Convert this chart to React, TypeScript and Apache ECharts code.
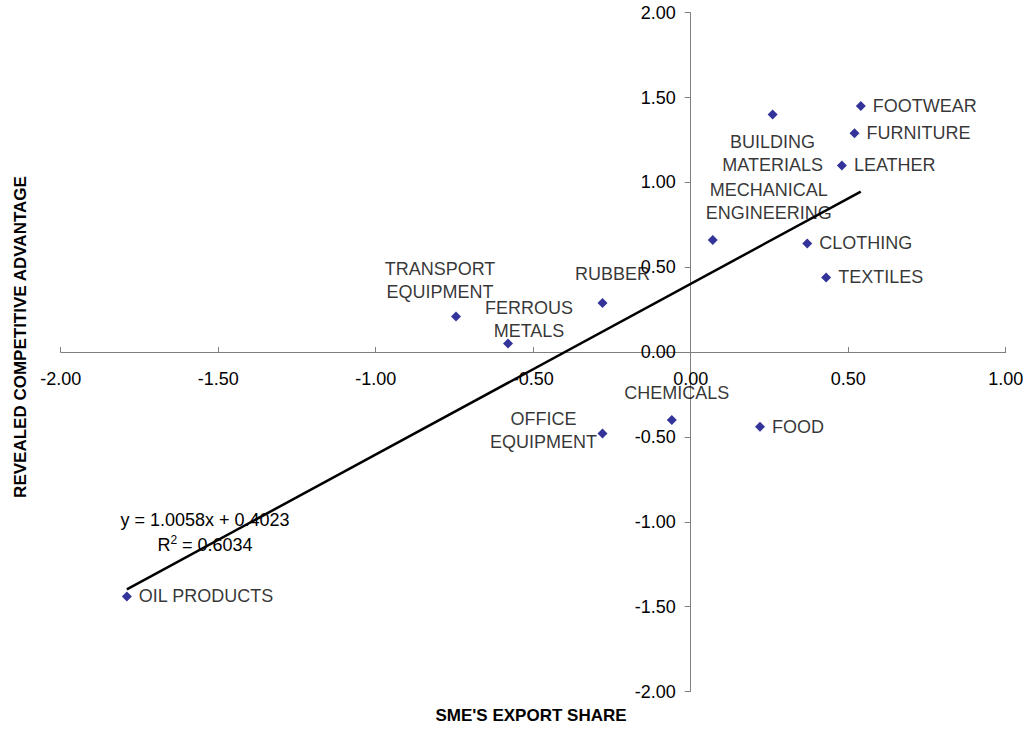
import React, { useEffect, useRef } from "react";
import * as echarts from "echarts";

// Sector names (line breaks where the label wraps)
const sectors = [
  "FOOTWEAR",
  "BUILDING\nMATERIALS",
  "FURNITURE",
  "LEATHER",
  "MECHANICAL\nENGINEERING",
  "CLOTHING",
  "TEXTILES",
  "RUBBER",
  "TRANSPORT\nEQUIPMENT",
  "FERROUS\nMETALS",
  "CHEMICALS",
  "OFFICE\nEQUIPMENT",
  "FOOD",
  "OIL PRODUCTS",
];

// SME's export share (x) and revealed competitive advantage (y)
const exportShare = [0.54, 0.26, 0.52, 0.48, 0.07, 0.37, 0.43, -0.28, -0.745, -0.58, -0.06, -0.28, 0.22, -1.79];
const rcaValues = [1.45, 1.4, 1.29, 1.1, 0.66, 0.64, 0.44, 0.29, 0.21, 0.05, -0.4, -0.48, -0.44, -1.44];

// Linear trend line fitted to the points
const trendSlope = 1.0058;
const trendIntercept = 0.4023;
const rSquared = 0.6034;

// Axis ranges
const xRange = [-2, 1];
const yRange = [-2, 2];
const tickStep = 0.5;

const FONT = "Arial, 'Liberation Sans', sans-serif";

// Plot area in pixels
const GRID = { left: 60.7, right: 23.3, top: 12.7, bottom: 41.5 };
const WIDTH = 1029;
const HEIGHT = 733;

// Where each sector label sits relative to its marker
const labelSpots: Record<string, { dx: number; dy: number; align: string }> = {
  "FOOTWEAR": { dx: 12, dy: 0, align: "left" },
  "FURNITURE": { dx: 12, dy: 0, align: "left" },
  "LEATHER": { dx: 12, dy: 0, align: "left" },
  "CLOTHING": { dx: 12, dy: 0, align: "left" },
  "TEXTILES": { dx: 12, dy: 0, align: "left" },
  "FOOD": { dx: 12, dy: 0, align: "left" },
  "OIL PRODUCTS": { dx: 12, dy: 0, align: "left" },
  "BUILDING\nMATERIALS": { dx: 0, dy: 39, align: "center" },
  "MECHANICAL\nENGINEERING": { dx: 56, dy: -39, align: "center" },
  "TRANSPORT\nEQUIPMENT": { dx: -16, dy: -36, align: "center" },
  "FERROUS\nMETALS": { dx: 21, dy: -24, align: "center" },
  "RUBBER": { dx: 10, dy: -29, align: "center" },
  "OFFICE\nEQUIPMENT": { dx: -59, dy: -3, align: "center" },
  "CHEMICALS": { dx: 5, dy: -27, align: "center" },
};

export default function App() {
  const ref = useRef<HTMLDivElement>(null);

  useEffect(() => {
    if (!ref.current) return;
    const chart = echarts.init(ref.current, undefined, { renderer: "svg" });

    const points = sectors.map((name, i) => {
      const spot = labelSpots[name];
      return {
        name,
        value: [exportShare[i], rcaValues[i]],
        label: { offset: [spot.dx, spot.dy], align: spot.align },
      };
    });

    const xMin = Math.min(...exportShare);
    const xMax = Math.max(...exportShare);
    const trend = [
      [xMin, trendSlope * xMin + trendIntercept],
      [xMax, trendSlope * xMax + trendIntercept],
    ];

    // The axes cross at the origin: shift each one in from the plot edge
    const plotW = WIDTH - GRID.left - GRID.right;
    const plotH = HEIGHT - GRID.top - GRID.bottom;
    const yAxisShift = (plotW * (0 - xRange[0])) / (xRange[1] - xRange[0]);
    const xAxisShift = (plotH * (0 - yRange[0])) / (yRange[1] - yRange[0]);

    const axisLine = { onZero: false, lineStyle: { color: "#7f7f7f", width: 1 } };
    const fmt = (v: number) => v.toFixed(2);

    chart.setOption({
      animation: false,
      backgroundColor: "#ffffff",
      grid: { ...GRID, containLabel: false },
      xAxis: {
        type: "value",
        position: "bottom",
        offset: -xAxisShift,
        min: xRange[0],
        max: xRange[1],
        interval: tickStep,
        axisLine,
        axisTick: { show: true, inside: true, length: 5, lineStyle: { color: "#7f7f7f" } },
        axisLabel: { color: "#000", fontSize: 18, fontFamily: FONT, margin: 18, formatter: fmt },
        splitLine: { show: false },
      },
      yAxis: {
        type: "value",
        position: "left",
        offset: -yAxisShift,
        min: yRange[0],
        max: yRange[1],
        interval: tickStep,
        axisLine,
        axisTick: { show: true, inside: false, length: 6, lineStyle: { color: "#7f7f7f" } },
        axisLabel: { color: "#000", fontSize: 18, fontFamily: FONT, margin: 15, formatter: fmt },
        splitLine: { show: false },
      },
      series: [
        {
          type: "scatter",
          z: 2,
          symbol: "diamond",
          symbolSize: 10,
          itemStyle: { color: "#000080" },
          data: points,
          label: {
            show: true,
            position: "inside",
            formatter: "{b}",
            color: "#000",
            fontSize: 18,
            fontFamily: FONT,
            lineHeight: 23,
            verticalAlign: "middle",
          },
        },
        {
          type: "line",
          z: 5,
          data: trend,
          symbol: "none",
          lineStyle: { color: "#000", width: 2.5 },
          silent: true,
        },
      ],
      graphic: [
        {
          type: "text",
          x: 205,
          y: 519.5,
          z: 1,
          style: {
            text: `y = ${trendSlope.toFixed(4)}x + ${trendIntercept.toFixed(4)}`,
            font: `18px ${FONT}`,
            fill: "#000",
            align: "center",
            textAlign: "center",
            verticalAlign: "middle",
            textVerticalAlign: "middle",
          },
        },
        {
          type: "text",
          x: 205,
          y: 545,
          z: 1,
          style: {
            text: `{r|R}{s|2}{r| = ${rSquared.toFixed(4)}}`,
            fill: "#000",
            align: "center",
            textAlign: "center",
            verticalAlign: "middle",
            textVerticalAlign: "middle",
            rich: {
              r: { fontSize: 18, fontFamily: FONT, fill: "#000", lineHeight: 22 },
              s: { fontSize: 12, fontFamily: FONT, fill: "#000", lineHeight: 12, verticalAlign: "top" },
            },
          },
        },
        {
          type: "text",
          x: 531,
          y: 715,
          style: {
            text: "SME'S EXPORT SHARE",
            font: `bold 17px ${FONT}`,
            fill: "#000",
            align: "center",
            textAlign: "center",
            verticalAlign: "middle",
            textVerticalAlign: "middle",
          },
        },
        {
          type: "text",
          x: 20,
          y: 337,
          rotation: Math.PI / 2,
          style: {
            text: "REVEALED COMPETITIVE ADVANTAGE",
            font: `bold 17px ${FONT}`,
            fill: "#000",
            align: "center",
            textAlign: "center",
            verticalAlign: "middle",
            textVerticalAlign: "middle",
          },
        },
      ],
    });

    return () => chart.dispose();
  }, []);

  return (
    <div
      ref={ref}
      style={{ position: "fixed", left: 0, top: 0, width: WIDTH, height: HEIGHT, background: "#fff" }}
    />
  );
}
